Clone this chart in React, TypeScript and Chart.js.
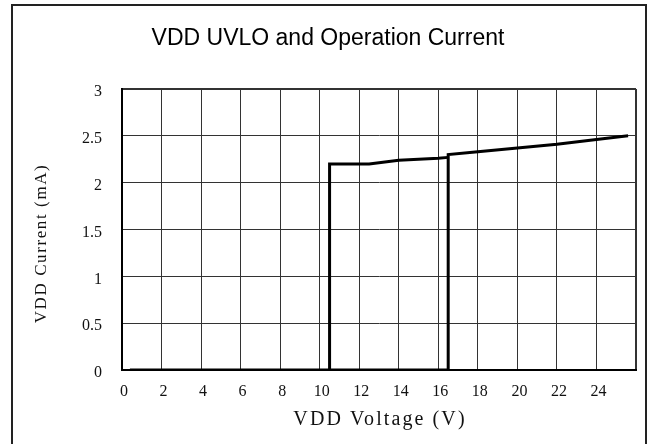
import { useEffect, useRef } from 'react';
import { Chart, registerables } from 'chart.js';

Chart.register(...registerables);

const chartTitle = 'VDD UVLO and Operation Current';
const xAxisTitle = 'VDD Voltage (V)';
const yAxisTitle = 'VDD Current (mA)';

const xTickValues = [0, 2, 4, 6, 8, 10, 12, 14, 16, 18, 20, 22, 24, 26];
const xTickLabels = ['0', '2', '4', '6', '8', '10', '12', '14', '16', '18', '20', '22', '24', ''];
const yTickValues = [0, 0.5, 1, 1.5, 2, 2.5, 3];
const yTickLabels = ['0', '0.5', '1', '1.5', '2', '2.5', '3'];

// Rising VDD: off until UVLO(on) at 16.5 V, then operating current
const riseVoltage = [0.4, 16.5, 16.5, 18, 20, 22, 24, 25.6];
const riseCurrent = [0, 0, 2.3, 2.33, 2.37, 2.41, 2.46, 2.5];

// Falling VDD: stays on down to UVLO(off) at 10.5 V
const fallVoltage = [16.5, 16, 14, 12.5, 10.5, 10.5];
const fallCurrent = [2.27, 2.26, 2.24, 2.2, 2.2, 0];

const toPoints = (xs: number[], ys: number[]) => xs.map((x, i) => ({ x, y: ys[i] }));

const frameAndTitles = {
  id: 'frameAndTitles',
  afterDraw(chart: any) {
    const ctx = chart.ctx as CanvasRenderingContext2D;
    const area = chart.chartArea;
    ctx.save();
    ctx.strokeStyle = '#222';
    ctx.lineWidth = 2;
    ctx.strokeRect(12, 5, 634, 470);
    ctx.fillStyle = '#111';
    ctx.textAlign = 'center';
    ctx.textBaseline = 'middle';
    ctx.font = '20px "Liberation Serif"';
    (ctx as any).letterSpacing = '2.1px';
    ctx.fillText(xAxisTitle, (area.left + area.right) / 2 + 1, area.bottom + 50);
    ctx.font = '17px "Liberation Serif"';
    (ctx as any).letterSpacing = '1.6px';
    ctx.translate(area.left - 80, (area.top + area.bottom) / 2 + 14);
    ctx.rotate(-Math.PI / 2);
    ctx.fillText(yAxisTitle, 0, 0);
    ctx.restore();
  },
};

export default function App() {
  const ref = useRef<HTMLCanvasElement | null>(null);

  useEffect(() => {
    document.body.style.margin = '0';
    if (!ref.current) return;
    const chart = new Chart(ref.current, {
      type: 'scatter',
      data: {
        datasets: [
          {
            label: 'Rising',
            data: toPoints(riseVoltage, riseCurrent),
            showLine: true,
            borderColor: '#000',
            borderWidth: 3,
            pointRadius: 0,
            borderJoinStyle: 'miter',
            borderCapStyle: 'butt',
            tension: 0,
          },
          {
            label: 'Falling',
            data: toPoints(fallVoltage, fallCurrent),
            showLine: true,
            borderColor: '#000',
            borderWidth: 3,
            pointRadius: 0,
            borderJoinStyle: 'miter',
            borderCapStyle: 'butt',
            tension: 0,
          },
        ],
      },
      options: {
        animation: false,
        responsive: false,
        devicePixelRatio: 1,
        layout: { padding: { left: 20, right: 12, top: 0, bottom: 0 } },
        plugins: {
          legend: { display: false },
          tooltip: { enabled: false },
          title: {
            display: true,
            text: chartTitle,
            color: '#000',
            font: { family: '"Liberation Sans", Arial, sans-serif', size: 23, weight: 'normal' },
            padding: { top: 25, bottom: 36.4 },
          },
        },
        scales: {
          x: {
            type: 'linear',
            min: 0,
            max: 26,
            afterBuildTicks: (scale: any) => {
              scale.ticks = xTickValues.map((v) => ({ value: v }));
            },
            afterFit: (scale: any) => {
              scale.height = 74;
            },
            ticks: {
              autoSkip: false,
              maxRotation: 0,
              padding: 12,
              labelOffset: 2,
              color: '#111',
              font: { family: '"Liberation Serif", serif', size: 16 },
              callback: (v: any) => {
                const i = xTickValues.indexOf(Number(v));
                return i >= 0 ? xTickLabels[i] : '';
              },
            },
            grid: {
              color: '#333',
              lineWidth: (c: any) => (c.tick && c.tick.value === 26 ? 2 : 1),
              drawTicks: false,
            },
            border: { display: true, color: '#000', width: 2 },
          },
          y: {
            type: 'linear',
            min: 0,
            max: 3,
            afterBuildTicks: (scale: any) => {
              scale.ticks = yTickValues.map((v) => ({ value: v }));
            },
            afterFit: (scale: any) => {
              scale.width = 102;
            },
            ticks: {
              autoSkip: false,
              padding: 20,
              labelOffset: 3,
              color: '#111',
              font: { family: '"Liberation Serif", serif', size: 16 },
              callback: (v: any) => {
                const i = yTickValues.indexOf(Number(v));
                return i >= 0 ? yTickLabels[i] : '';
              },
            },
            grid: {
              color: '#333',
              lineWidth: (c: any) => (c.tick && c.tick.value === 3 ? 2 : 1),
              drawTicks: false,
            },
            border: { display: true, color: '#000', width: 2 },
          },
        },
      },
      plugins: [frameAndTitles],
    });
    return () => chart.destroy();
  }, []);

  return (
    <div style={{ position: 'absolute', left: 0, top: 0, width: 648, height: 444, background: '#fff' }}>
      <canvas ref={ref} width={648} height={444} style={{ width: 648, height: 444, display: 'block' }} />
    </div>
  );
}
